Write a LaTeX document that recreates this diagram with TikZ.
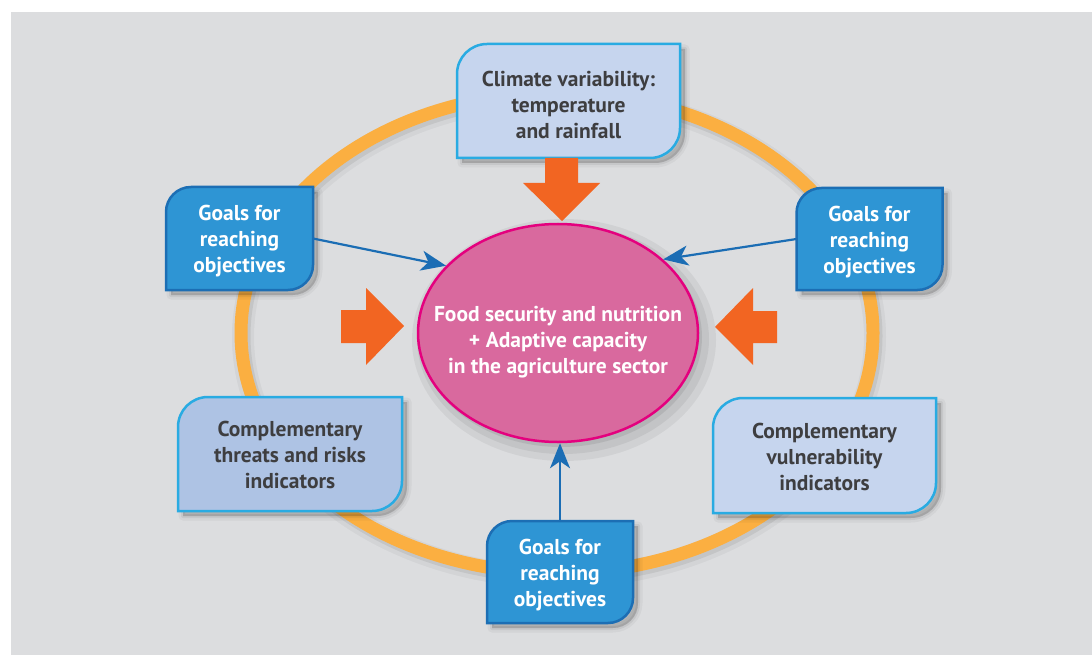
\documentclass[tikz,border=0pt]{standalone}
\usepackage{fontspec}
\setmainfont{PT Sans}
\usetikzlibrary{shapes.geometric,arrows.meta,backgrounds}
\definecolor{bggray}{HTML}{DCDDDF}
\definecolor{ringcol}{HTML}{FBAF41}
\definecolor{lightfill}{HTML}{C6D5EE}
\definecolor{lightfillb}{HTML}{AEC3E4}
\definecolor{lightline}{HTML}{29ABE2}
\definecolor{goalfill}{HTML}{2E95D4}
\definecolor{goalline}{HTML}{1C6EB4}
\definecolor{pinkfill}{HTML}{D9699E}
\definecolor{pinkline}{HTML}{E4007E}
\definecolor{arrowor}{HTML}{F26522}
\definecolor{conncol}{HTML}{1B6DB4}
\definecolor{textdark}{HTML}{3E3E40}

\newcommand\leafdraw[3]{\path[#3] (#1.south west) -- ([yshift=-#2pt]#1.north west) arc[start angle=180,end angle=270,radius=#2] -- (#1.north east) -- ([yshift=#2pt]#1.south east) arc[start angle=0,end angle=90,radius=#2] -- cycle;}
\newcommand\leafshadow[2]{%
 \leafdraw{#1}{#2}{fill=black,draw=black,line width=9pt,line join=round,opacity=0.04,transform canvas={xshift=5pt,yshift=-5pt}}%
 \leafdraw{#1}{#2}{fill=black,draw=black,line width=4pt,line join=round,opacity=0.06,transform canvas={xshift=5pt,yshift=-5pt}}%
 \leafdraw{#1}{#2}{fill=black,opacity=0.08,transform canvas={xshift=5pt,yshift=-5pt}}}

\tikzset{
 boxframe/.style={inner sep=0pt, outer sep=0pt},
 boxtext/.style={font=\bfseries\fontsize{21.5}{26}\selectfont, align=center, inner sep=0pt},
 lighttext/.style={boxtext, text=textdark},
 goaltext/.style={boxtext, text=white},
 conn/.style={draw=conncol, line width=2.2pt, -{Stealth[length=25pt,width=20pt,inset=7pt]}},
 blockarrow/.style={fill=arrowor},
}

\begin{document}
\begin{tikzpicture}[x=1pt,y=-1pt]
\useasboundingbox (0,0) rectangle (1092,655);

% box frames (shapes drawn on background layer from their anchors)
\node[boxframe, minimum width=223, minimum height=114] (clim) at (568.5,101) {};
\node[boxframe, minimum width=147, minimum height=103] (lg) at (239.5,238.5) {};
\node[boxframe, minimum width=146, minimum height=102] (rg) at (869.5,239) {};
\node[boxframe, minimum width=146, minimum height=102] (bg) at (560,572) {};
\node[boxframe, minimum width=224, minimum height=114] (lc) at (290,454) {};
\node[boxframe, minimum width=223, minimum height=115] (rc) at (824.5,455.5) {};

% texts
\node[lighttext] (climt) at ([yshift=-4pt]clim.center) {Climate variability:\\temperature\\and rainfall};
\node[goaltext] (lgt) at ([yshift=-3pt]lg.center) {Goals for\\reaching\\objectives};
\node[goaltext] (rgt) at ([yshift=-3pt]rg.center) {Goals for\\reaching\\objectives};
\node[goaltext] (bgt) at ([yshift=-3pt]bg.center) {Goals for\\reaching\\objectives};
\node[lighttext] (lct) at ([yshift=-1pt]lc.center) {Complementary\\threats and risks\\indicators};
\node[lighttext] (rct) at ([yshift=-1pt]rc.center) {Complementary\\vulnerability\\indicators};

\node[ellipse, minimum width=280, minimum height=218, inner sep=0pt, fill=pinkfill, draw=pinkline, line width=2.5pt] (ell) at (558,333) {};
\node[goaltext] (elltext) at ([yshift=-9.5pt]ell.center) {Food security and nutrition\\+ Adaptive capacity\\in the agriculture sector};

% connectors
\draw[conn] (lg.east) -- (ell.149);
\draw[conn] (rg.west) -- (ell.35);
\draw[conn] (bg.north) -- (bg.north |- ell.south);

\begin{pgfonlayer}{background}
\fill[bggray] (11,12) rectangle (1092,655);
% ring with soft shadow
\draw[black, opacity=0.04, line width=22pt] (559,337) ellipse[x radius=316, y radius=240];
\draw[black, opacity=0.07, line width=15pt] (559,336) ellipse[x radius=316, y radius=240];
\draw[ringcol, line width=13pt] (557,333) ellipse[x radius=316, y radius=240];
% ellipse shadow
\fill[black, opacity=0.05] (564,340) ellipse[x radius=152, y radius=121];
\fill[black, opacity=0.06] (563,339) ellipse[x radius=146, y radius=115];
\fill[black, opacity=0.08] (561,337) ellipse[x radius=141, y radius=110];
% box shadows
\leafshadow{clim}{30}
\leafshadow{lg}{25}
\leafshadow{rg}{25}
\leafshadow{bg}{25}
\leafshadow{lc}{30}
\leafshadow{rc}{30}
% boxes
\leafdraw{clim}{30}{fill=lightfill, draw=lightline, line width=2.5pt}
\leafdraw{lc}{30}{fill=lightfillb, draw=lightline, line width=2.5pt}
\leafdraw{rc}{30}{fill=lightfill, draw=lightline, line width=2.5pt}
\leafdraw{lg}{25}{fill=goalfill, draw=goalline, line width=2.5pt}
\leafdraw{rg}{25}{fill=goalfill, draw=goalline, line width=2.5pt}
\leafdraw{bg}{25}{fill=goalfill, draw=goalline, line width=2.5pt}
% block arrows
\fill[blockarrow] (545,158) -- (578,158) -- (578,183) -- (600,183) -- (562,221) -- (523,183) -- (545,183) -- cycle;
\fill[blockarrow] (341,310) -- (366,310) -- (366,288) -- (404,326) -- (366,365) -- (366,343) -- (341,343) -- cycle;
\fill[blockarrow] (777,311) -- (753,311) -- (753,288) -- (715,327) -- (753,365) -- (753,343) -- (777,343) -- cycle;
\end{pgfonlayer}
\end{tikzpicture}
\end{document}
